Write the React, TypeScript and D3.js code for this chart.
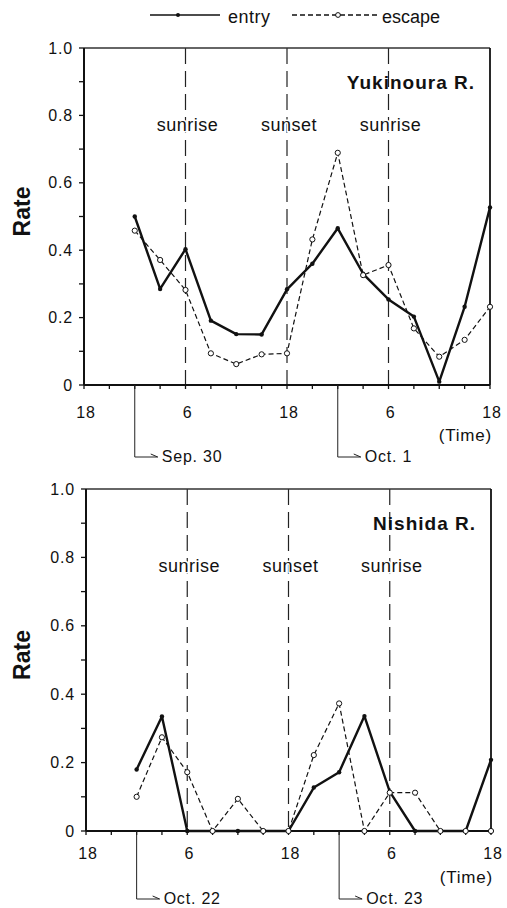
import React from 'react';
import * as d3 from 'd3';

// ---- data ----
const hours = [6, 9, 12, 15, 18, 21, 24, 27, 30, 33, 36, 39, 42, 45, 48];
const xTickHours = [0, 3, 6, 9, 12, 15, 18, 21, 24, 27, 30, 33, 36, 39, 42, 45, 48];
const xLabelHours = [0, 12, 24, 36, 48];
const xLabels = ['18', '6', '18', '6', '18'];
const yMajor = [0, 0.2, 0.4, 0.6, 0.8, 1.0];
const yLabels = ['0', '0.2', '0.4', '0.6', '0.8', '1.0'];
const yMinor = [0, 0.1, 0.2, 0.3, 0.4, 0.5, 0.6, 0.7, 0.8, 0.9, 1.0];
const eventHours = [12, 24, 36];
const eventLabels = ['sunrise', 'sunset', 'sunrise'];
const dateHours = [6, 30];

const yukiEntry = [0.5, 0.285, 0.403, 0.191, 0.151, 0.15, 0.284, 0.36, 0.465, 0.33, 0.254, 0.203, 0.01, 0.232, 0.527];
const yukiEscape = [0.458, 0.371, 0.282, 0.094, 0.062, 0.091, 0.094, 0.432, 0.689, 0.326, 0.356, 0.168, 0.084, 0.134, 0.232];
const yukiDates = ['Sep. 30', 'Oct. 1'];

const nishiEntry = [0.18, 0.335, 0, 0, 0, 0, 0, 0.127, 0.172, 0.336, 0.115, 0, 0, 0, 0.208];
const nishiEscape = [0.1, 0.274, 0.172, 0, 0.094, 0, 0, 0.222, 0.373, 0, 0.112, 0.112, 0, 0, 0];
const nishiDates = ['Oct. 22', 'Oct. 23'];

const FONT = '"Liberation Sans", Arial, Helvetica, sans-serif';

type PanelProps = {
  name: string;
  entry: number[];
  escape: number[];
  dates: string[];
  left: number;
  right: number;
  top: number;
  bottom: number;
  labelDy: number;
  timeDy: number;
  bracketDy: number;
};

function Panel({ name, entry, escape, dates, left, right, top, bottom, labelDy, timeDy, bracketDy }: PanelProps) {
  const x = d3.scaleLinear().domain([0, 48]).range([left, right]);
  const y = d3.scaleLinear().domain([0, 1]).range([bottom, top]);
  const line = d3
    .line<[number, number]>()
    .x((d) => x(d[0]))
    .y((d) => y(d[1]));
  const entryPts: [number, number][] = hours.map((h, i) => [h, entry[i]]);
  const escapePts: [number, number][] = hours.map((h, i) => [h, escape[i]]);
  const midY = (top + bottom) / 2;

  return (
    <g>
      {/* event lines */}
      {eventHours.map((h, i) => (
        <line key={'ev' + i} x1={x(h)} x2={x(h)} y1={top} y2={bottom} stroke="#222" strokeWidth={1.2} strokeDasharray="16,7" />
      ))}
      {eventHours.map((h, i) => (
        <text
          key={'evl' + i}
          x={x(h) + 2}
          y={top + 83}
          textAnchor="middle"
          fontFamily={FONT}
          fontSize={18}
          letterSpacing={0.5}
          fill="#111"
          stroke="#fff"
          strokeWidth={3}
          paintOrder="stroke"
        >
          {eventLabels[i]}
        </text>
      ))}
      {/* frame */}
      <line x1={left} x2={right} y1={top} y2={top} stroke="#333" strokeWidth={1.5} />
      <line x1={right} x2={right} y1={top} y2={bottom} stroke="#111" strokeWidth={1.8} />
      <line x1={left} x2={left} y1={top} y2={bottom} stroke="#111" strokeWidth={2} />
      <line x1={left} x2={right} y1={bottom} y2={bottom} stroke="#111" strokeWidth={2} />
      {/* y ticks */}
      {yMinor.map((v, i) => (
        <line key={'yt' + i} x1={left - 5} x2={left} y1={y(v)} y2={y(v)} stroke="#111" strokeWidth={1.3} />
      ))}
      {yMajor.map((v, i) => (
        <text key={'yl' + i} x={left - 11} y={y(v) + 5.5} textAnchor="end" fontFamily={FONT} fontSize={16} letterSpacing={0.8} fill="#111">
          {yLabels[i]}
        </text>
      ))}
      {/* x ticks */}
      {xTickHours.map((h, i) => (
        <line key={'xt' + i} x1={x(h)} x2={x(h)} y1={bottom} y2={bottom + 4} stroke="#111" strokeWidth={1.3} />
      ))}
      {xLabelHours.map((h, i) => (
        <text key={'xl' + i} x={x(h) + 2} y={bottom + labelDy} textAnchor="middle" fontFamily={FONT} fontSize={16} letterSpacing={0.8} fill="#111">
          {xLabels[i]}
        </text>
      ))}
      <text x={right + 2} y={bottom + timeDy} textAnchor="end" fontFamily={FONT} fontSize={17} letterSpacing={0.8} fill="#111">
        (Time)
      </text>
      {/* y label */}
      <text
        transform={`translate(${30},${midY - 5}) rotate(-90)`}
        textAnchor="middle"
        fontFamily={FONT}
        fontSize={23}
        fontWeight="bold"
        fill="#111"
      >
        Rate
      </text>
      {/* panel name */}
      <text x={right - 15} y={top + 41} textAnchor="end" fontFamily={FONT} fontSize={19} fontWeight="bold" letterSpacing={1} fill="#111">
        {name}
      </text>
      {/* date brackets */}
      {dateHours.map((h, i) => {
        const bx = x(h);
        const by = bottom + bracketDy;
        return (
          <g key={'db' + i}>
            <line x1={bx} x2={bx} y1={bottom} y2={by} stroke="#222" strokeWidth={1} />
            <line x1={bx} x2={bx + 23} y1={by} y2={by} stroke="#222" strokeWidth={1} />
            <polyline points={`${bx + 16},${by - 3} ${bx + 23},${by}`} fill="none" stroke="#222" strokeWidth={1} />
            <text x={bx + 27} y={by + 5} fontFamily={FONT} fontSize={16} letterSpacing={0.8} fill="#111">
              {dates[i]}
            </text>
          </g>
        );
      })}
      {/* escape series */}
      <path d={line(escapePts) || ''} fill="none" stroke="#111" strokeWidth={1.2} strokeDasharray="5,3" />
      {/* entry series */}
      <path d={line(entryPts) || ''} fill="none" stroke="#111" strokeWidth={2.4} strokeLinejoin="round" />
      {entryPts.map((d, i) => (
        <circle key={'en' + i} cx={x(d[0])} cy={y(d[1])} r={2.2} fill="#111" />
      ))}
      {escapePts.map((d, i) => (
        <circle key={'es' + i} cx={x(d[0])} cy={y(d[1])} r={2.6} fill="#fff" stroke="#111" strokeWidth={1} />
      ))}
    </g>
  );
}

function Legend() {
  const ly = 15;
  return (
    <g>
      <line x1={150} x2={220} y1={ly} y2={ly} stroke="#111" strokeWidth={1.5} />
      <circle cx={178} cy={ly} r={2} fill="#111" />
      <text x={228} y={ly + 8} fontFamily={FONT} fontSize={18} letterSpacing={0.5} fill="#111">
        entry
      </text>
      <line x1={292} x2={378} y1={ly} y2={ly} stroke="#111" strokeWidth={1.3} strokeDasharray="5,3" />
      <circle cx={338} cy={ly} r={2.4} fill="#fff" stroke="#111" strokeWidth={1} />
      <text x={382} y={ly + 8} fontFamily={FONT} fontSize={18} fill="#111">
        escape
      </text>
    </g>
  );
}

export default function App() {
  return (
    <svg
      width={507}
      height={908}
      viewBox="0 0 507 908"
      style={{ position: 'absolute', left: 0, top: 0, background: '#fff' }}
    >
      <rect x={0} y={0} width={507} height={908} fill="#fff" />
      <Legend />
      <Panel
        name="Yukinoura R."
        entry={yukiEntry}
        escape={yukiEscape}
        dates={yukiDates}
        left={84}
        right={490}
        top={48}
        bottom={385}
        labelDy={33}
        timeDy={56}
        bracketDy={72}
      />
      <Panel
        name="Nishida R."
        entry={nishiEntry}
        escape={nishiEscape}
        dates={nishiDates}
        left={86}
        right={491}
        top={489}
        bottom={831}
        labelDy={28}
        timeDy={52}
        bracketDy={68}
      />
    </svg>
  );
}
